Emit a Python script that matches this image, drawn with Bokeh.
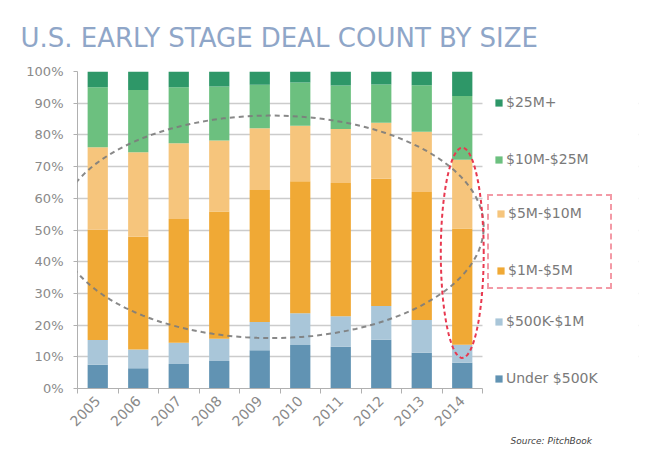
import numpy as np
from bokeh.plotting import figure
from bokeh.models import (ColumnDataSource, FixedTicker, Legend, LegendItem, Title,
                          PolyAnnotation, BoxAnnotation, Range1d)
from bokeh.embed import file_html
from bokeh.resources import INLINE

years = ["2005", "2006", "2007", "2008", "2009", "2010", "2011", "2012", "2013", "2014"]
under_500k = [7.5, 6.4, 7.7, 8.7, 12.1, 13.7, 13.2, 15.4, 11.3, 8.1]
k500_1m = [7.8, 5.9, 6.7, 7.0, 8.9, 10.0, 9.6, 10.6, 10.3, 5.7]
m1_5 = [34.8, 35.6, 39.1, 40.1, 41.6, 41.7, 42.0, 40.2, 40.4, 36.7]
m5_10 = [26.0, 26.6, 23.9, 22.4, 19.5, 17.5, 17.1, 17.6, 19.0, 21.7]
m10_25 = [18.9, 19.7, 17.6, 17.1, 13.7, 13.6, 13.7, 12.1, 14.7, 20.1]
m25_plus = [5.0, 5.8, 5.0, 4.7, 4.2, 3.5, 4.4, 4.1, 4.3, 7.7]

series_keys = ["u500k", "k500_1m", "m1_5", "m5_10", "m10_25", "m25p"]
series_labels = ["Under $500K", "$500K-$1M", "$1M-$5M", "$5M-$10M", "$10M-$25M", "$25M+"]
series_colors = ["#6193b3", "#a9c6d9", "#f0a935", "#f6c57c", "#6cc07f", "#2e9768"]
y_ticks = list(range(0, 101, 10))

xs = list(range(len(years)))
source = ColumnDataSource(dict(x=xs, u500k=under_500k, k500_1m=k500_1m, m1_5=m1_5,
                               m5_10=m5_10, m10_25=m10_25, m25p=m25_plus))

FONT = "DejaVu Sans"
BAND = 40.5
FRAME_W = 561
p = figure(frame_width=FRAME_W, frame_height=317, output_backend="svg", toolbar_location=None,
           x_range=Range1d(-0.5, -0.5 + FRAME_W / BAND), y_range=Range1d(0, 100),
           min_border_left=77, min_border_right=16, min_border_top=71, min_border_bottom=62)
p.outline_line_color = None
p.background_fill_color = "white"

# title
p.title.text = "U.S. EARLY STAGE DEAL COUNT BY SIZE"
p.title.align = "left"
p.title.offset = -57
p.title.standoff = 38
p.title.text_font = FONT
p.title.text_font_size = "26px"
p.title.text_font_style = "normal"
p.title.text_color = "#8fa6c8"

renderers = p.vbar_stack(series_keys, x="x", width=0.5, color=series_colors, source=source,
                         line_color=None)

# axes
p.xaxis.bounds = (-0.5, len(years) - 0.5)
p.xaxis.ticker = FixedTicker(ticks=xs, minor_ticks=[i - 0.5 for i in range(len(years) + 1)])
p.xaxis.major_label_overrides = {i: y for i, y in enumerate(years)}
p.xaxis.major_label_orientation = np.pi / 4
p.xaxis.major_tick_line_color = None
p.xaxis.minor_tick_out = 5
p.xaxis.minor_tick_in = 0
p.xaxis.minor_tick_line_color = "#b0b0b0"
p.xaxis.axis_line_color = "#b0b0b0"
p.xaxis.major_label_text_font = FONT
p.xaxis.major_label_text_font_size = "14px"
p.xaxis.major_label_text_color = "#8a8a8a"
p.xaxis.major_label_standoff = 4

p.yaxis.bounds = (0, 100)
p.yaxis.ticker = FixedTicker(ticks=y_ticks)
p.yaxis.major_label_overrides = {t: f"{t}%" for t in y_ticks}
p.yaxis.minor_tick_line_color = None
p.yaxis.major_tick_out = 4
p.yaxis.major_tick_in = 0
p.yaxis.major_tick_line_color = "#b0b0b0"
p.yaxis.axis_line_color = "#b0b0b0"
p.yaxis.major_label_text_font = FONT
p.yaxis.major_label_text_font_size = "13px"
p.yaxis.major_label_text_color = "#8a8a8a"
p.yaxis.major_label_standoff = 10

p.xgrid.grid_line_color = None
p.ygrid.grid_line_color = "#cccccc"
p.ygrid.grid_line_width = 1.5

# hide grid lines in the legend area (right of the last band)
p.add_layout(BoxAnnotation(left=len(years) - 0.5, fill_color="white", fill_alpha=1,
                           line_color=None, level="underlay"))

# legends (three groups, the middle one boxed with a red dashed frame)
def make_legend(idx, loc, pad, border=None, label_width=20):
    items = [LegendItem(label=series_labels[i], renderers=[renderers[i]]) for i in idx]
    kw = dict(border_line_color=None)
    if border:
        kw = dict(border_line_color=border, border_line_width=2, border_line_dash="4 3")
    return Legend(items=items, location=loc, orientation="vertical",
                  margin=0, padding=pad, spacing=37, label_height=20, label_width=label_width,
                  glyph_width=9, glyph_height=9, label_standoff=3,
                  label_text_font=FONT, label_text_font_size="14px",
                  label_text_color="#7a7a7a", background_fill_alpha=0, **kw)

p.add_layout(make_legend([5, 4], (417, 219), 0))
p.add_layout(make_legend([3, 2], (410, 99), 7, border="#e8384f", label_width=95))
p.add_layout(make_legend([1, 0], (417, 0), 0))

# annotation ellipses (in data units)
t = np.linspace(0, 2 * np.pi, 120)
gx, gy, gw, gh = 4.28, 51.0, 10.5, 70.2
p.add_layout(PolyAnnotation(xs=list(gx + gw / 2 * np.cos(t)), ys=list(gy + gh / 2 * np.sin(t)),
                            fill_alpha=0, line_color="#7c7c7c", line_alpha=0.9, line_width=2,
                            line_dash="5 4", level="overlay"))
rx, ry, rw, rh = 9.0, 42.8, 1.06, 66.3
p.add_layout(PolyAnnotation(xs=list(rx + rw / 2 * np.cos(t)), ys=list(ry + rh / 2 * np.sin(t)),
                            fill_alpha=0, line_color="#e8384f", line_alpha=1, line_width=2,
                            line_dash="4 3", level="overlay"))

# source note
p.add_layout(Title(text="Source: PitchBook", align="left", offset=433, standoff=-24,
                   text_font=FONT, text_font_size="9px", text_font_style="italic",
                   text_color="#444444"), "below")

open("out.html", "w").write(file_html(p, INLINE))
